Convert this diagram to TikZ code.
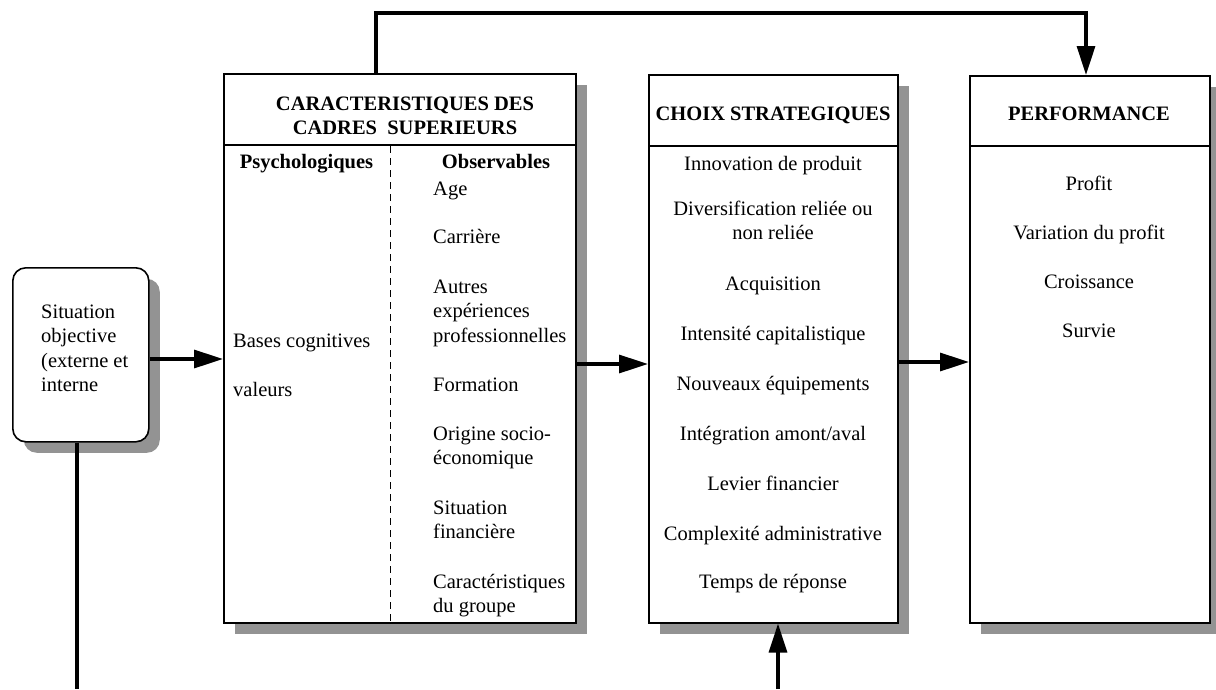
\documentclass[tikz,border=0pt]{standalone}
\usepackage{fontspec}
\setmainfont{Liberation Serif}
\usetikzlibrary{arrows.meta,shadows}
\definecolor{shadowgray}{RGB}{147,147,147}
\newcommand\figfont{\fontsize{20.5}{24.5}\selectfont}
\begin{document}
\begin{tikzpicture}[x=1pt,y=-1pt,
  box/.style={draw=black, line width=1.6pt, fill=white, inner sep=0pt, rectangle,
    drop shadow={shadow xshift=11pt, shadow yshift=-11pt, fill=shadowgray, opacity=1}},
  txt/.style={inner sep=0pt, font=\figfont, align=left, anchor=north west},
  ctxt/.style={inner sep=0pt, font=\figfont, align=center, anchor=north},
  btxt/.style={ctxt, font=\figfont\bfseries},
  conn/.style={line width=3.2pt},
  arr/.style={conn, -{Triangle[length=29pt,width=18pt]}},
  sepline/.style={line width=1.6pt},
  dashsep/.style={line width=0.9pt, dash pattern=on 7pt off 5pt}
]
\useasboundingbox (0,0) rectangle (1216,689);

% boxes
\node[box, minimum width=352pt, minimum height=549pt, anchor=north west] (b1) at (223,73) {};
\node[box, minimum width=249pt, minimum height=548pt, anchor=north west] (b2) at (648,74) {};
\node[box, minimum width=240pt, minimum height=547pt, anchor=north west] (b3) at (969,75) {};
\node[box, rounded corners=13pt, minimum width=136pt, minimum height=174pt, anchor=north west] (sit) at (12,267) {};

% header separators and column divider
\draw[sepline] (223,145) -- (576,145);
\draw[sepline] (648,146) -- (898,146);
\draw[sepline] (969,146) -- (1210,146);
\draw[dashsep] (390,146) -- (390,621);

% situation text
\node[txt] (sittext) at (41,301) {\strut Situation\\objective\\(externe et\\interne};

% box 1
\node[btxt] (h1) at (405,93) {\strut CARACTERISTIQUES DES\\CADRES\ \ SUPERIEURS};
\node[btxt] (psy) at (306.5,151) {\strut Psychologiques};
\node[btxt] (obs) at (496,151) {\strut Observables};
\node[txt] (bases) at (233,330) {\strut Bases cognitives};
\node[txt] (val) at (233,379) {\strut valeurs};
\node[txt] (age) at (433,178) {\strut Age};
\node[txt] (carr) at (433,226) {\strut Carrière};
\node[txt] (autres) at (433,276) {\strut Autres\\expériences\\professionnelles};
\node[txt] (form) at (433,374) {\strut Formation};
\node[txt] (orig) at (433,423) {\strut Origine socio-\\économique};
\node[txt] (sitfin) at (433,497) {\strut Situation\\financière};
\node[txt] (carac) at (433,571) {\strut Caractéristiques\\du groupe};

% box 2
\node[btxt] (h2) at (773,103) {\strut CHOIX STRATEGIQUES};
\node[ctxt] (c1) at (773,153) {\strut Innovation de produit};
\node[ctxt] (c2) at (773,198) {\strut Diversification reliée ou\\non reliée};
\node[ctxt] (c3) at (773,273) {\strut Acquisition};
\node[ctxt] (c4) at (773,323) {\strut Intensité capitalistique};
\node[ctxt] (c5) at (773,373) {\strut Nouveaux équipements};
\node[ctxt] (c6) at (773,423) {\strut Intégration amont/aval};
\node[ctxt] (c7) at (773,473) {\strut Levier financier};
\node[ctxt] (c8) at (773,523) {\strut Complexité administrative};
\node[ctxt] (c9) at (773,571) {\strut Temps de réponse};

% box 3
\node[btxt] (h3) at (1089,103) {\strut PERFORMANCE};
\node[ctxt] (p1) at (1089,173) {\strut Profit};
\node[ctxt] (p2) at (1089,222) {\strut Variation du profit};
\node[ctxt] (p3) at (1089,271) {\strut Croissance};
\node[ctxt] (p4) at (1089,320) {\strut Survie};

% connectors
\coordinate (top1) at (376,13);
\coordinate (top2) at (1086,13);
\coordinate (s1) at (0,359);
\coordinate (s2) at (0,364);
\coordinate (s3) at (0,362);
\coordinate (bot) at (778,689);
\coordinate (sbot) at (77,689);

\draw[arr] (top1 |- b1.north) -- (top1) -- (top2) -- (top2 |- b3.north);
\draw[arr] (sit.east |- s1) -- (b1.west |- s1);
\draw[arr] (b1.east |- s2) -- (b2.west |- s2);
\draw[arr] (b2.east |- s3) -- (b3.west |- s3);
\draw[arr] (bot) -- (bot |- b2.south);
\draw[conn] (sbot |- sit.south) -- (sbot);
\end{tikzpicture}
\end{document}
